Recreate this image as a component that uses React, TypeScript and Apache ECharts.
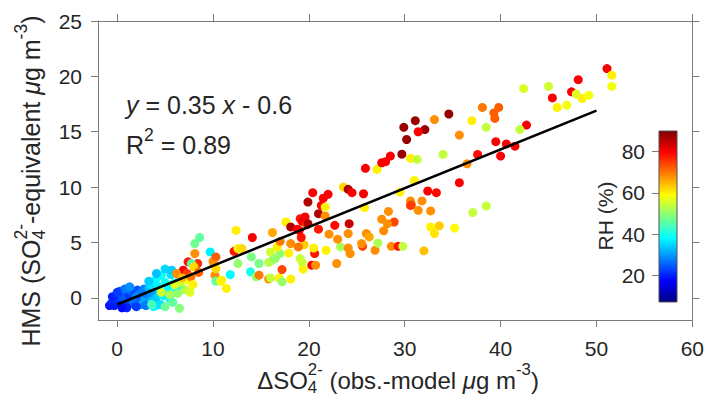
import React, { useEffect, useRef } from 'react';
import * as echarts from 'echarts';

// ---------- data ----------
const X_TICKS = [0, 10, 20, 30, 40, 50, 60];
const Y_TICKS = [0, 5, 10, 15, 20, 25];
const RH_TICKS = [20, 40, 60, 80];
const X_MIN = -2, X_MAX = 60;
const Y_MIN = -2, Y_MAX = 25;
const RH_MIN = 7, RH_MAX = 90;
const FIT_SLOPE = 0.35;
const FIT_INTERCEPT = -0.6;
const FIT_X = [0, 50];

// [ΔSO4 (obs-model), HMS, RH]
const blueCluster = [
  [-0.8, -0.7, 19], [-0.6, -0.5, 20], [-0.4, -0.3, 21], [-0.3, -0.7, 19], [-0.2, 0.1, 22],
  [-0.1, -0.4, 20], [0, -0.1, 21], [0.1, 0.2, 23], [0.2, -0.5, 20], [0.3, -0.2, 22],
  [0.4, 0.3, 21], [0.5, -0.6, 20], [0.6, 0, 24], [0.7, 0.4, 22], [0.8, -0.3, 23],
  [0.9, 0.1, 25], [1.0, -0.7, 21], [1.1, 0.5, 23], [1.2, -0.2, 25], [1.3, 0.2, 22],
  [1.4, -0.5, 23], [1.5, 0.6, 26], [1.6, 0, 22], [1.7, -0.3, 27], [1.8, 0.3, 24],
  [1.9, -0.7, 25], [2.0, 0.1, 28], [2.1, 0.7, 24], [2.2, -0.4, 26], [2.3, 0.3, 29],
  [2.4, -0.1, 25], [2.5, 0.5, 27], [2.6, -0.6, 30], [2.7, 0.2, 26], [2.8, 0.8, 28],
  [2.9, -0.2, 31], [3.0, 0.4, 27], [3.2, -0.5, 29], [3.3, 0.9, 32], [3.5, 0.1, 29],
  [3.6, -0.3, 33], [3.8, 0.6, 30], [4.0, -0.1, 34], [4.2, 0.9, 31], [4.4, 0.3, 35],
  [0.3, 0.6, 24], [0.8, 0.8, 27], [1.3, 1.0, 29], [-0.5, 0.1, 20], [0.0, 0.5, 22],
  [1.0, -0.9, 20], [2.0, -0.8, 22], [3.0, -0.7, 27], [4.0, -0.7, 35], [0.5, -0.9, 18],
];
const cyanGroup = [
  [3.5, 1.2, 36], [4.0, 1.6, 38], [4.3, 1.0, 37], [4.6, 2.0, 39], [5.0, 1.4, 40],
  [5.3, 0.8, 38], [5.6, 2.1, 36], [5.9, 1.3, 41], [6.2, 0.6, 39], [4.8, 0.2, 37],
  [5.5, -0.1, 40], [3.8, -0.8, 38], [4.5, -0.6, 36], [6.5, 1.8, 42], [5.0, 2.6, 35],
  [4.1, 2.2, 33], [3.3, 1.5, 34], [6.8, 0.8, 41], [9.7, 4.15, 37], [11.8, 2.1, 38],
  [13.9, 2.35, 40], [5.7, 2.5, 34],
];
const lowGroup = [
  [3.6, -0.6, 44], [5.0, -0.8, 47], [6.5, -0.95, 49], [4.6, 0.5, 55], [5.5, 0.3, 52],
  [6.0, 1.2, 57], [6.6, 1.4, 55], [7.1, 0.75, 53], [6.3, 0.4, 50], [5.8, -0.4, 46],
  [7.4, 1.6, 58], [7.6, 0.5, 56], [6.9, 2.5, 80], [7.3, 2.2, 75], [7.7, 1.9, 70],
  [6.2, 2.2, 68], [7.4, 3.25, 78], [8.4, 3.1, 76], [7.75, 3.1, 45], [8.1, 4.0, 68],
  [8.6, 5.45, 46], [8.1, 4.9, 47], [10.0, 3.3, 68], [10.3, 3.7, 72], [10.2, 2.05, 68],
  [10.3, 1.5, 46], [10.8, 1.5, 59], [11.4, 0.85, 60], [12.2, 4.2, 78], [12.4, 6.1, 60],
  [12.6, 4.45, 60], [12.6, 3.1, 50], [14.1, 5.45, 80], [14.0, 3.7, 48], [14.5, 1.9, 50],
  [8.0, 2.8, 62], [6.8, 1.8, 64], [7.9, 1.2, 60], [8.5, 2.3, 72], [13.0, 4.45, 62],
  [10.1, 3.0, 68], [10.3, 2.65, 62], [10.9, 1.6, 60], [16.0, 4.15, 55], [16.2, 3.4, 52],
];
const midGroup = [
  [14.8, 2.05, 70], [15.8, 1.7, 68], [16.0, 1.8, 54], [16.9, 1.8, 60], [17.2, 1.45, 50],
  [18.1, 1.7, 60], [17.2, 2.55, 74], [19.4, 2.6, 60], [14.8, 3.1, 48], [15.8, 3.2, 53],
  [16.5, 3.55, 50], [19.1, 3.55, 54], [19.3, 3.2, 55], [20.3, 2.95, 80], [20.7, 2.95, 68],
  [22.9, 3.1, 68], [17.0, 4.0, 50], [17.9, 4.05, 60], [20.6, 4.0, 78], [16.7, 4.6, 60],
  [18.1, 4.9, 68], [19.5, 4.8, 63], [18.9, 4.6, 70], [20.5, 4.5, 60], [21.8, 4.3, 60],
  [23.3, 4.6, 52], [24.1, 4.5, 68], [24.3, 4.0, 68], [25.6, 4.65, 74], [26.9, 4.3, 68],
  [27.2, 4.95, 52], [28.6, 4.65, 68], [29.3, 4.65, 78], [29.8, 4.65, 54], [25.5, 4.9, 68],
  [16.2, 5.9, 66], [19.2, 5.45, 78], [17.0, 5.1, 70], [22.1, 5.75, 68], [24.1, 5.8, 68],
  [26.0, 5.8, 68], [26.3, 5.5, 66], [23.0, 5.3, 68], [17.6, 6.85, 60], [19.1, 7.15, 78],
  [19.6, 7.3, 80], [19.3, 6.9, 80], [18.1, 6.4, 86], [18.8, 6.2, 80], [19.8, 6.6, 72],
  [19.0, 6.1, 80], [19.9, 6.7, 86], [21.0, 6.2, 78], [22.7, 6.55, 79], [24.2, 6.7, 84],
  [27.6, 7.1, 68], [28.9, 6.85, 74], [28.2, 6.7, 68], [27.8, 6.05, 68], [21.0, 7.6, 86],
  [21.7, 7.4, 68], [19.9, 8.65, 86], [21.5, 9.0, 80], [21.3, 8.35, 80], [21.7, 8.2, 60],
  [25.8, 8.15, 60], [28.3, 7.8, 68], [20.4, 9.5, 80], [22.0, 9.35, 80], [23.6, 10.0, 62],
  [24.1, 9.8, 86], [24.5, 9.5, 80], [25.7, 9.4, 80], [29.5, 9.55, 60], [25.9, 11.7, 80],
  [27.1, 11.6, 60], [27.6, 12.2, 80], [28.0, 12.3, 80], [28.5, 12.8, 80], [29.7, 12.97, 88],
];
const highGroup = [
  [30.6, 12.6, 60], [31.0, 10.6, 60], [31.3, 12.5, 54], [30.6, 8.75, 68], [30.7, 8.4, 72],
  [30.2, 14.3, 88], [29.9, 15.4, 88], [31.1, 16.0, 88], [32.1, 15.2, 88], [31.4, 15.0, 80],
  [34.6, 16.6, 88], [33.1, 16.1, 68], [34.0, 12.95, 54], [35.7, 14.7, 68], [37.0, 16.0, 60],
  [38.1, 17.2, 70], [39.3, 16.7, 72], [39.8, 17.2, 72], [39.4, 16.2, 72], [38.5, 15.4, 54],
  [42.7, 15.6, 80], [42.0, 15.2, 54], [42.4, 18.9, 56], [39.5, 14.1, 80], [40.6, 13.9, 80],
  [41.5, 13.7, 80], [40.0, 12.8, 80], [37.6, 12.95, 79], [36.5, 12.1, 68], [35.7, 10.4, 80],
  [32.4, 9.65, 80], [33.3, 9.5, 79], [30.6, 8.35, 75], [31.8, 8.75, 68], [31.4, 7.9, 68],
  [32.7, 7.85, 68], [38.5, 8.3, 54], [37.1, 7.7, 54], [32.7, 6.4, 60], [33.6, 6.5, 63],
  [33.1, 5.8, 61], [35.2, 6.3, 59], [32.0, 4.25, 64], [45.0, 19.1, 55], [47.4, 18.6, 80],
  [47.9, 18.4, 56], [48.5, 18.0, 60], [49.2, 18.3, 58], [45.4, 18.05, 80], [45.9, 17.2, 60],
  [46.9, 17.4, 58], [48.1, 19.7, 80], [51.1, 20.7, 80], [51.6, 20.1, 60], [51.6, 19.1, 58],
];

// ---------- style ----------
const FONT = '"Liberation Sans", Arial, Helvetica, sans-serif';
const TXT = '#262626';
const AX = '#7a7a7a';
const JET = ['#000080', '#0000FF', '#0080FF', '#00FFFF', '#80FF80', '#FFFF00', '#FF8000', '#FF0000', '#800000'];

let measureCtx: CanvasRenderingContext2D | null = null;
function tw(t: string, size: number, italic?: boolean) {
  if (!measureCtx) measureCtx = document.createElement('canvas').getContext('2d');
  measureCtx!.font = `${italic ? 'italic ' : ''}${size}px ${FONT}`;
  return measureCtx!.measureText(t).width;
}

type Seg = { t: string; k?: 'sup' | 'stack'; sub?: string; it?: boolean };

function buildText(segs: Seg[], size: number, centered: boolean) {
  const small = size * 0.7;
  const items: any[] = [];
  let x = 0;
  const mk = (t: string, px: number, py: number, fs: number, it?: boolean) => ({
    type: 'text', x: px, y: py, silent: true,
    style: {
      text: t, fontSize: fs, fontFamily: FONT, fontStyle: it ? 'italic' : 'normal',
      fill: TXT, align: 'left', verticalAlign: 'middle', textAlign: 'left', textVerticalAlign: 'middle',
    },
  });
  for (const s of segs) {
    if (!s.k) {
      items.push(mk(s.t, x, 0, size, s.it));
      x += tw(s.t, size, s.it);
    } else if (s.k === 'sup') {
      items.push(mk(s.t, x, -0.42 * size, small));
      x += tw(s.t, small);
    } else {
      items.push(mk(s.t, x, -0.42 * size, small));
      items.push(mk(s.sub || '', x, 0.32 * size, small));
      x += Math.max(tw(s.t, small), tw(s.sub || '', small));
    }
  }
  if (centered) items.forEach((it) => (it.x -= x / 2));
  return items;
}

export default function App() {
  const ref = useRef<HTMLDivElement>(null);
  useEffect(() => {
    if (!ref.current) return;
    const chart = echarts.init(ref.current, undefined, { renderer: 'svg' });
    const points = [...blueCluster, ...cyanGroup, ...lowGroup, ...midGroup, ...highGroup];
    const fitLine = FIT_X.map((x) => [x, FIT_SLOPE * x + FIT_INTERCEPT]);
    const TICK = 21;

    const axisCommon = (labels: boolean, ticks: number[], margin: number) => ({
      type: 'value',
      axisLine: { show: true, onZero: false, lineStyle: { color: AX, width: 1 } },
      axisTick: { show: true, inside: false, length: 7, customValues: ticks, lineStyle: { color: AX, width: 1 } },
      axisLabel: {
        show: labels, customValues: ticks, fontSize: TICK, color: TXT, fontFamily: FONT, margin,
      },
      splitLine: { show: false },
    });

    const xLabel = buildText([
      { t: '\u0394SO' }, { t: '2-', k: 'stack', sub: '4' }, { t: ' (obs.-model ' },
      { t: '\u03BC', it: true }, { t: 'g m' }, { t: '-3', k: 'sup' }, { t: ')' },
    ], 24, true);
    const yLabel = buildText([
      { t: 'HMS (SO' }, { t: '2-', k: 'stack', sub: '4' }, { t: '-equivalent ' },
      { t: '\u03BC', it: true }, { t: 'g m' }, { t: '-3', k: 'sup' }, { t: ')' },
    ], 25, true);
    const eq1 = buildText([
      { t: 'y', it: true }, { t: ' = 0.35 ' }, { t: 'x', it: true }, { t: ' - 0.6' },
    ], 25, false);
    const eq2 = buildText([{ t: 'R' }, { t: '2', k: 'sup' }, { t: ' = 0.89' }], 25, false);
    const rhLabel = buildText([{ t: 'RH (%)' }], TICK, true);

    const option: any = {
      animation: false,
      backgroundColor: '#ffffff',
      grid: [
        { left: 98, top: 21, width: 598, height: 299 },
        { left: 659, top: 131, width: 18, height: 171 },
      ],
      xAxis: [
        { ...axisCommon(true, X_TICKS, 18), gridIndex: 0, min: X_MIN, max: X_MAX, position: 'bottom' },
        { ...axisCommon(false, X_TICKS, 18), gridIndex: 0, min: X_MIN, max: X_MAX, position: 'top' },
        { type: 'value', gridIndex: 1, min: 0, max: 1, show: false },
      ],
      yAxis: [
        { ...axisCommon(true, Y_TICKS, 16), gridIndex: 0, min: Y_MIN, max: Y_MAX, position: 'left' },
        { ...axisCommon(false, Y_TICKS, 16), gridIndex: 0, min: Y_MIN, max: Y_MAX, position: 'right' },
        {
          ...axisCommon(true, RH_TICKS, 14), gridIndex: 1, min: RH_MIN, max: RH_MAX, position: 'left',
          axisLine: { show: false },
        },
      ],
      visualMap: {
        show: false, type: 'continuous', min: RH_MIN, max: RH_MAX, dimension: 2, seriesIndex: 0,
        inRange: { color: JET },
      },
      series: [
        {
          type: 'scatter', xAxisIndex: 0, yAxisIndex: 0, data: points, symbolSize: 9,
          itemStyle: { opacity: 1 }, emphasis: { disabled: true },
        },
        {
          type: 'line', xAxisIndex: 0, yAxisIndex: 0, data: fitLine, symbol: 'none',
          lineStyle: { color: '#000', width: 2.5 }, z: 5, silent: true,
        },
        { type: 'scatter', xAxisIndex: 2, yAxisIndex: 2, data: [] },
      ],
      graphic: [
        {
          type: 'rect', silent: true, z: 10,
          shape: { x: 659, y: 131, width: 18, height: 171 },
          style: {
            fill: {
              type: 'linear', x: 0, y: 1, x2: 0, y2: 0,
              colorStops: JET.map((c, i) => ({ offset: i / (JET.length - 1), color: c })),
            },
            stroke: '#555', lineWidth: 1,
          },
        },
        { type: 'group', x: 398, y: 380, children: xLabel },
        { type: 'group', x: 31, y: 181, rotation: Math.PI / 2, children: yLabel },
        { type: 'group', x: 126, y: 105, children: eq1 },
        { type: 'group', x: 126, y: 145, children: eq2 },
        { type: 'group', x: 605, y: 216, rotation: Math.PI / 2, children: rhLabel },
      ],
    };
    chart.setOption(option);
    return () => chart.dispose();
  }, []);
  return (
    <div
      ref={ref}
      style={{ position: 'fixed', left: 0, top: 0, width: 707, height: 398, background: '#fff' }}
    />
  );
}
